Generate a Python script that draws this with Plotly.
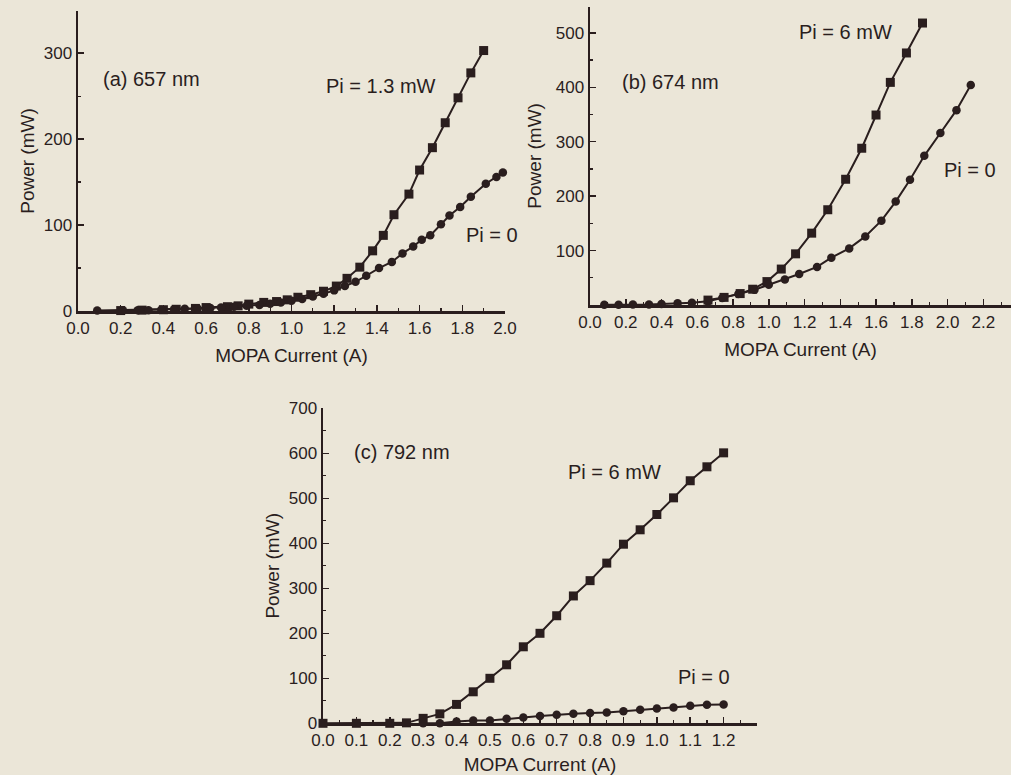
import plotly.graph_objects as go

# ---------------- data ----------------
# (a) 657 nm
a_x_pi13 = [0.20, 0.30, 0.40, 0.46, 0.55, 0.60, 0.70, 0.75, 0.80, 0.87, 0.93, 0.98, 1.03, 1.09,
            1.15, 1.21, 1.26, 1.32, 1.38, 1.43, 1.48, 1.55, 1.60, 1.66, 1.72, 1.78, 1.84, 1.90]
a_y_pi13 = [0.5, 1, 1.5, 2, 3, 4, 5, 6, 8, 10, 11, 13, 16, 19,
            23, 29, 38, 51, 70, 88, 112, 136, 164, 190, 219, 248, 277, 303]
a_x_pi0 = [0.09, 0.21, 0.28, 0.33, 0.39, 0.45, 0.50, 0.56, 0.62, 0.67, 0.73, 0.79, 0.85, 0.90,
           0.95, 1.00, 1.05, 1.10, 1.15, 1.20, 1.25, 1.30, 1.35, 1.41, 1.47, 1.52, 1.57, 1.61,
           1.65, 1.70, 1.74, 1.79, 1.84, 1.91, 1.96, 1.99]
a_y_pi0 = [0.5, 1, 1, 1, 1.5, 2, 2.5, 3, 3.5, 4, 5, 6, 7, 8.5,
           10, 12, 14, 17, 20, 24, 29, 34, 41, 50, 57, 67, 75, 83,
           88, 101, 111, 121, 133, 148, 156, 161]

# (b) 674 nm
b_x_pi6 = [0.66, 0.75, 0.84, 0.91, 0.99, 1.07, 1.15, 1.24, 1.33, 1.43, 1.52, 1.60, 1.68, 1.77, 1.86]
b_y_pi6 = [9, 14, 21, 29, 43, 66, 94, 132, 175, 231, 288, 349, 409, 463, 518]
b_x_pi0 = [0.08, 0.16, 0.24, 0.33, 0.40, 0.49, 0.57, 0.66, 0.74, 0.83, 0.92, 1.00, 1.09, 1.17,
           1.27, 1.35, 1.45, 1.54, 1.63, 1.71, 1.79, 1.87, 1.96, 2.05, 2.13]
b_y_pi0 = [0.5, 0.5, 1, 1, 2, 3, 4, 7, 13, 20, 28, 37, 47, 57,
           70, 87, 104, 126, 155, 190, 230, 274, 316, 358, 404]

# (c) 792 nm
c_x_pi6 = [0.0, 0.1, 0.2, 0.25, 0.3, 0.35, 0.4, 0.45, 0.5, 0.55, 0.6, 0.65, 0.7, 0.75, 0.8,
           0.85, 0.9, 0.95, 1.0, 1.05, 1.1, 1.15, 1.2]
c_y_pi6 = [0, 0, 0, 1, 11, 21, 42, 70, 100, 130, 170, 200, 239, 283, 317,
           356, 398, 430, 464, 501, 539, 570, 601]
c_x_pi0 = [0.3, 0.35, 0.4, 0.45, 0.5, 0.55, 0.6, 0.65, 0.7, 0.75, 0.8, 0.85, 0.9, 0.95, 1.0,
           1.05, 1.1, 1.15, 1.2]
c_y_pi0 = [0, 0, 4, 6, 6, 10, 13, 16, 19, 21, 23, 24, 27, 30, 33,
           35, 39, 41, 42]

# tick values / labels
a_xticks = [0.0, 0.2, 0.4, 0.6, 0.8, 1.0, 1.2, 1.4, 1.6, 1.8, 2.0]
a_xlabels = ["0.0", "0.2", "0.4", "0.6", "0.8", "1.0", "1.2", "1.4", "1.6", "1.8", "2.0"]
a_yticks = [0, 100, 200, 300]
b_xticks = [0.0, 0.2, 0.4, 0.6, 0.8, 1.0, 1.2, 1.4, 1.6, 1.8, 2.0, 2.2]
b_xlabels = ["0.0", "0.2", "0.4", "0.6", "0.8", "1.0", "1.2", "1.4", "1.6", "1.8", "2.0", "2.2"]
b_yticks = [100, 200, 300, 400, 500]
c_xticks = [0.0, 0.1, 0.2, 0.3, 0.4, 0.5, 0.6, 0.7, 0.8, 0.9, 1.0, 1.1, 1.2]
c_xlabels = ["0.0", "0.1", "0.2", "0.3", "0.4", "0.5", "0.6", "0.7", "0.8", "0.9", "1.0", "1.1", "1.2"]
c_yticks = [0, 100, 200, 300, 400, 500, 600, 700]

# ---------------- style ----------------
INK = "#2a1e1e"
BG = "#ebe6d8"
FONT = "Liberation Sans, Arial, sans-serif"

fig = go.Figure()

def add_pair(xs, ys, xc, yc, xa, ya):
    fig.add_trace(go.Scatter(x=xs, y=ys, xaxis=xa, yaxis=ya, mode="lines+markers",
                             line=dict(color=INK, width=2),
                             marker=dict(symbol="square", size=9, color=INK),
                             cliponaxis=False, showlegend=False, hoverinfo="skip"))
    fig.add_trace(go.Scatter(x=xc, y=yc, xaxis=xa, yaxis=ya, mode="lines+markers",
                             line=dict(color=INK, width=2),
                             marker=dict(symbol="circle", size=8.5, color=INK),
                             cliponaxis=False, showlegend=False, hoverinfo="skip"))

add_pair(a_x_pi13, a_y_pi13, a_x_pi0, a_y_pi0, "x", "y")
add_pair(b_x_pi6, b_y_pi6, b_x_pi0, b_y_pi0, "x2", "y2")
add_pair(c_x_pi6, c_y_pi6, c_x_pi0, c_y_pi0, "x3", "y3")

W, H = 1011, 775

def xaxis(domain, rng, ticks, labels, anchor, dtick_minor, standoff):
    return dict(domain=domain, range=rng, anchor=anchor, tickmode="array",
                tickvals=ticks, ticktext=labels, ticks="inside", ticklen=6, tickwidth=1.5,
                tickcolor=INK, showline=True, linecolor=INK, linewidth=2.5,
                showgrid=False, zeroline=False, automargin=False, fixedrange=True,
                minor=dict(ticks="inside", ticklen=3, tickwidth=1.2, tickcolor=INK, dtick=dtick_minor),
                tickfont=dict(family=FONT, size=17, color=INK),
                title=dict(text="MOPA Current (A)", font=dict(family=FONT, size=19, color=INK),
                           standoff=standoff))

def yaxis(domain, rng, ticks, anchor, standoff):
    return dict(domain=domain, range=rng, anchor=anchor, tickmode="array",
                tickvals=ticks, ticktext=[str(t) for t in ticks], ticks="inside", ticklen=6,
                tickwidth=1.5, tickcolor=INK, showline=True, linecolor=INK, linewidth=2.5,
                showgrid=False, zeroline=False, automargin=False, fixedrange=True,
                minor=dict(ticks="inside", ticklen=3, tickwidth=1.2, tickcolor=INK, dtick=50),
                tickfont=dict(family=FONT, size=17, color=INK),
                title=dict(text="Power (mW)", font=dict(family=FONT, size=19, color=INK),
                           standoff=standoff))

fig.update_layout(
    width=W, height=H, margin=dict(l=0, r=0, t=0, b=0),
    paper_bgcolor=BG, plot_bgcolor=BG,
    font=dict(family=FONT, color=INK),
    hovermode=False,
    xaxis=xaxis([78 / W, 505 / W], [0, 2.0], a_xticks, a_xlabels, "y", 0.1, 12),
    yaxis=yaxis([1 - 311 / H, 1 - 11 / H], [0, 349], a_yticks, "x", 4),
    xaxis2=xaxis([590 / W, 1.0], [0, 2.355], b_xticks, b_xlabels, "y2", 0.1, 12),
    yaxis2=yaxis([1 - 305 / H, 1 - 6.7 / H], [0, 548], b_yticks, "x2", 9),
    xaxis3=xaxis([323 / W, 757 / W], [0, 1.3], c_xticks, c_xlabels, "y3", 0.05, 10),
    yaxis3=yaxis([1 - 723.3 / H, 1 - 408.3 / H], [0, 700], c_yticks, "x3", 4),
)

def label(text, x, y, xa, ya, xanchor="center"):
    fig.add_annotation(text=text, x=x, y=y, xref=xa, yref=ya, showarrow=False,
                       xanchor=xanchor, yanchor="middle",
                       font=dict(family=FONT, size=20, color=INK))

label("(a) 657 nm", 0.11, 270, "x", "y", "left")
label("Pi = 1.3 mW", 1.42, 262, "x", "y")
label("Pi = 0", 1.94, 88, "x", "y")
label("(b) 674 nm", 0.168, 410, "x2", "y2", "left")
label("Pi = 6 mW", 1.43, 502, "x2", "y2")
label("Pi = 0", 2.125, 248, "x2", "y2")
label("(c) 792 nm", 0.087, 603, "x3", "y3", "left")
label("Pi = 6 mW", 0.874, 559, "x3", "y3")
label("Pi = 0", 1.14, 104, "x3", "y3")

fig.write_html(
    "out.html",
    config={"displayModeBar": False, "staticPlot": True},
    post_script="document.body.style.margin='0';document.body.style.background='" + BG + "';"
                "document.body.style.overflow='hidden';",
)
